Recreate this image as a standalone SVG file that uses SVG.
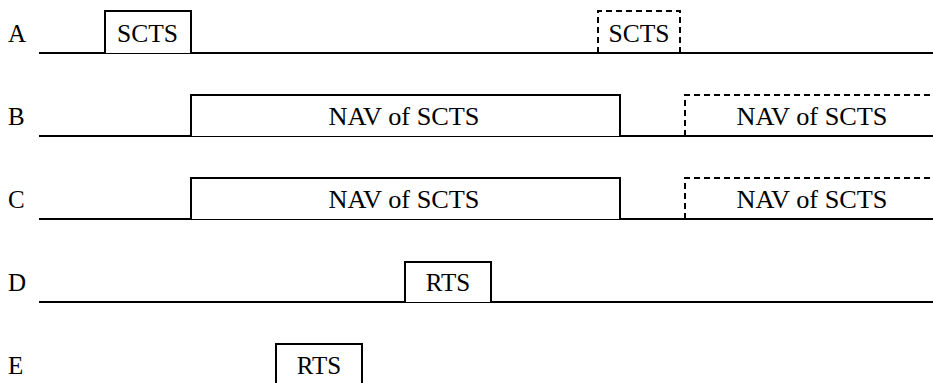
<svg xmlns="http://www.w3.org/2000/svg" width="933" height="383" viewBox="0 0 933 383">
  <style>
    .axis { stroke: #000; stroke-width: 2; fill: none; }
    .frame { stroke: #000; stroke-width: 2; fill: #fff; }
    .dash { stroke: #000; stroke-width: 2; fill: none; stroke-dasharray: 6 4; }
  </style>

  <!-- station time axes -->
  <g id="connectors">
    <line class="axis" x1="39" y1="53" x2="933" y2="53"/>
    <line class="axis" x1="39" y1="136" x2="933" y2="136"/>
    <line class="axis" x1="39" y1="219" x2="933" y2="219"/>
    <line class="axis" x1="39" y1="302" x2="933" y2="302"/>
  </g>

  <!-- station labels -->
  <g id="labels" font-family="Liberation Serif, serif" font-size="25" fill="#000">
    <text x="8" y="42">A</text>
    <text x="8" y="125">B</text>
    <text x="8" y="208">C</text>
    <text x="8" y="291">D</text>
    <text x="8" y="374">E</text>
  </g>

  <!-- station A -->
  <g id="a-scts" font-family="Liberation Serif, serif" font-size="25" fill="#000">
    <polyline class="frame" points="105,53 105,11 191,11 191,53"/>
    <text x="147.5" y="42" style="font-family:'Liberation Serif',serif" text-anchor="middle" textLength="61" lengthAdjust="spacingAndGlyphs">SCTS</text>
  </g>
  <g id="a-scts-next" font-family="Liberation Serif, serif" font-size="25" fill="#000">
    <polyline class="dash" points="598,53 598,11 680,11 680,53"/>
    <text x="639" y="42" style="font-family:'Liberation Serif',serif" text-anchor="middle" textLength="61" lengthAdjust="spacingAndGlyphs">SCTS</text>
  </g>

  <!-- station B -->
  <g id="b-nav" font-family="Liberation Serif, serif" font-size="25" fill="#000">
    <polyline class="frame" points="191,136 191,95 620,95 620,136"/>
    <text x="404" y="124.5" style="font-family:'Liberation Serif',serif" text-anchor="middle" textLength="151" lengthAdjust="spacingAndGlyphs">NAV of SCTS</text>
  </g>
  <g id="b-nav-next" font-family="Liberation Serif, serif" font-size="25" fill="#000">
    <polyline class="dash" points="685,136 685,95 933,95"/>
    <text x="812" y="124.5" style="font-family:'Liberation Serif',serif" text-anchor="middle" textLength="151" lengthAdjust="spacingAndGlyphs">NAV of SCTS</text>
  </g>

  <!-- station C -->
  <g id="c-nav" font-family="Liberation Serif, serif" font-size="25" fill="#000">
    <polyline class="frame" points="191,219 191,178 620,178 620,219"/>
    <text x="404" y="207.5" style="font-family:'Liberation Serif',serif" text-anchor="middle" textLength="151" lengthAdjust="spacingAndGlyphs">NAV of SCTS</text>
  </g>
  <g id="c-nav-next" font-family="Liberation Serif, serif" font-size="25" fill="#000">
    <polyline class="dash" points="685,219 685,178 933,178"/>
    <text x="812" y="207.5" style="font-family:'Liberation Serif',serif" text-anchor="middle" textLength="151" lengthAdjust="spacingAndGlyphs">NAV of SCTS</text>
  </g>

  <!-- station D -->
  <g id="d-rts" font-family="Liberation Serif, serif" font-size="25" fill="#000">
    <polyline class="frame" points="405,302 405,262 491,262 491,302"/>
    <text x="448" y="291" style="font-family:'Liberation Serif',serif" text-anchor="middle">RTS</text>
  </g>

  <!-- station E -->
  <g id="e-rts" font-family="Liberation Serif, serif" font-size="25" fill="#000">
    <polyline class="frame" points="276,385 276,344 362,344 362,385"/>
    <text x="319" y="374" style="font-family:'Liberation Serif',serif" text-anchor="middle">RTS</text>
  </g>
</svg>
